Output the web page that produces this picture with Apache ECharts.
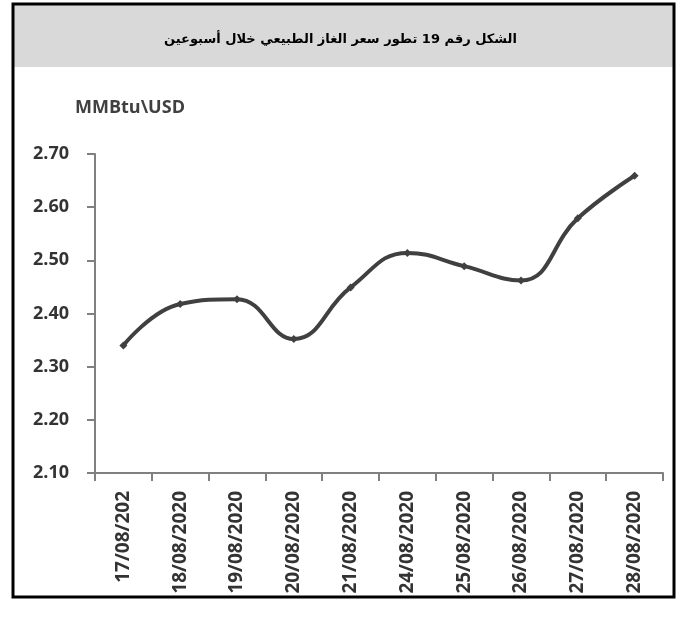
<!DOCTYPE html>
<html>
<head>
<meta charset="utf-8">
<script src="https://cdn.jsdelivr.net/npm/echarts@6/dist/echarts.min.js"></script>
<style>
html,body{margin:0;padding:0;background:#fff;}
#c{width:681px;height:617px;}
</style>
</head>
<body>
<div id="c"></div>
<script>
const titleText = 'الشكل رقم 19 تطور سعر الغاز الطبيعي خلال أسبوعين';
const unitLabel = 'MMBtu\\USD';
const categories = ['17/08/202', '18/08/2020', '19/08/2020', '20/08/2020', '21/08/2020', '24/08/2020', '25/08/2020', '26/08/2020', '27/08/2020', '28/08/2020'];
const prices = [2.340, 2.418, 2.427, 2.352, 2.449, 2.514, 2.489, 2.462, 2.579, 2.659];
const yTicks = [2.10, 2.20, 2.30, 2.40, 2.50, 2.60, 2.70];

const chart = echarts.init(document.getElementById('c'), null, {renderer: 'canvas'});
const latin = '"Open Sans", "Noto Sans", sans-serif';
chart.setOption({
  animation: false,
  backgroundColor: '#ffffff',
  graphic: [
    {type: 'rect', shape: {x: 14, y: 5, width: 659, height: 62}, style: {fill: '#d9d9d9'}, z: -1},
    {type: 'rect', shape: {x: 13, y: 4, width: 661, height: 593}, style: {fill: null, stroke: '#000', lineWidth: 3}, z: 10},
    {type: 'text', left: 75, top: 99, style: {text: unitLabel, font: 'bold 18px ' + latin, fill: '#404040'}}
  ],
  title: {
    text: titleText,
    left: 'center',
    top: 28,
    textStyle: {fontSize: 13, fontWeight: 'bold', color: '#000', fontFamily: '"DejaVu Sans", sans-serif'}
  },
  grid: {left: 95, right: 18, top: 154, bottom: 144, containLabel: false},
  xAxis: {
    type: 'category',
    data: categories,
    boundaryGap: true,
    axisLine: {lineStyle: {color: '#808080', width: 2}},
    axisTick: {show: true, length: 8, inside: false, alignWithLabel: false, lineStyle: {color: '#808080', width: 2}},
    axisLabel: {rotate: 90, margin: 18, color: '#333', fontSize: 19, fontWeight: 'bold', fontFamily: latin, interval: 0},
    splitLine: {show: false}
  },
  yAxis: {
    type: 'value',
    min: 2.1,
    max: 2.7,
    interval: 0.1,
    axisLine: {show: true, lineStyle: {color: '#808080', width: 2}},
    axisTick: {show: true, length: 8, lineStyle: {color: '#808080', width: 2}},
    axisLabel: {margin: 26, color: '#333', fontSize: 18, fontWeight: 'bold', fontFamily: latin,
      formatter: v => v.toFixed(2)},
    splitLine: {show: false}
  },
  series: [{
    type: 'line',
    data: prices,
    smooth: 0.45,
    symbol: 'diamond',
    symbolSize: 8,
    lineStyle: {color: '#404040', width: 4},
    itemStyle: {color: '#404040'}
  }]
});
</script>
</body>
</html>
